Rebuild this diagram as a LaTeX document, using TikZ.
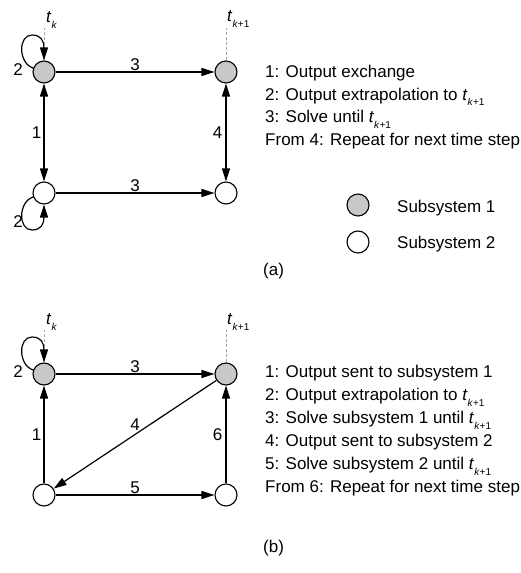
\documentclass[tikz,border=0pt]{standalone}
\usepackage{fontspec}
\setmainfont{Liberation Sans}
\usetikzlibrary{arrows.meta}

\definecolor{subgray}{RGB}{200,200,200}

\tikzset{
	sub1/.style={circle,draw,line width=1.1pt,fill=subgray,minimum size=22pt,inner sep=0pt},
	sub2/.style={circle,draw,line width=1.1pt,fill=white,minimum size=22pt,inner sep=0pt},
	flow/.style={line width=1.2pt,-{Triangle[length=13pt,width=8pt]}},
	twoway/.style={line width=1.2pt,{Triangle[length=13pt,width=8pt]}-{Triangle[length=13pt,width=8pt]}},
	tick/.style={gray!70,densely dashed,line width=0.8pt},
	note/.style={anchor=base west,inner sep=0pt},
}
% time instant with a small lowered index
\newcommand{\tstep}[1]{\textit{t}\raisebox{-0.6ex}{\fontsize{10}{10}\selectfont #1}}

\begin{document}
\begin{tikzpicture}[x=1pt,y=1pt,font=\fontsize{17}{20}\selectfont]
	%\draw[help lines] (0,0) grid[step=20] (520,573);
	\useasboundingbox (0,0) rectangle (520,573);

	% ---- (a) ----
	\node[sub1] (a1) at (44,501) {};
	\node[sub1] (a2) at (226,501) {};
	\node[sub2] (a3) at (44,380) {};
	\node[sub2] (a4) at (226,380) {};
	\coordinate (ak) at (44,545);
	\coordinate (ak1) at (226,545);
	\draw[tick] (a1.north) -- (ak);
	\draw[tick] (a2.north) -- (ak1);
	\node[note] (tka) at (46,550) {\tstep{\textit{k}}};
	\node[note] (tk1a) at (227,551) {\tstep{\textit{k}+1}};

	% self loops
	\draw[flow] (a1.160) .. controls (18,510) and (18,538) .. (32,538)
		.. controls (41,538) and (44,532) .. (a1.north);
	\draw[flow] (a3.200) .. controls (18,371) and (18,343) .. (32,343)
		.. controls (41,343) and (44,349) .. (a3.south);
	\node (la) at (18,503) {2};
	\node (lb) at (18,351) {2};

	\draw[flow] (a1) -- node[above,inner sep=1pt] {3} (a2);
	\draw[flow] (a3) -- node[above,inner sep=1pt] {3} (a4);
	\draw[twoway] (a1) -- node[left,inner sep=2pt] {1} (a3);
	\draw[twoway] (a2) -- node[left,inner sep=3pt] {4} (a4);

	\node[note] (na1) at (265,495) {1: Output exchange};
	\node[note] (na2) at (265,472.5) {2: Output extrapolation to \tstep{\textit{k}+1}};
	\node[note] (na3) at (265,450) {3: Solve until \tstep{\textit{k}+1}};
	\node[note] (na4) at (265,427.5) {From 4: Repeat for next time step};

	\node[sub1] (key1) at (358,368) {};
	\node[sub2] (key2) at (358,331) {};
	\node[note] (key1txt) at (397,360) {Subsystem 1};
	\node[note] (key2txt) at (397,324) {Subsystem 2};
	\node[note] (capa) at (263,297) {(a)};

	% ---- (b) ----
	\node[sub1] (b1) at (44,199) {};
	\node[sub1] (b2) at (226,199) {};
	\node[sub2] (b3) at (44,78) {};
	\node[sub2] (b4) at (226,78) {};
	\coordinate (bk) at (44,243);
	\coordinate (bk1) at (226,243);
	\draw[tick] (b1.north) -- (bk);
	\draw[tick] (b2.north) -- (bk1);
	\node[note] (tkb) at (46,248) {\tstep{\textit{k}}};
	\node[note] (tk1b) at (227,248) {\tstep{\textit{k}+1}};

	\draw[flow] (b1.160) .. controls (18,208) and (18,236) .. (32,236)
		.. controls (41,236) and (44,230) .. (b1.north);
	\node (lc) at (18,201) {2};

	\draw[flow] (b3) -- node[left,inner sep=2pt] {1} (b1);
	\draw[flow] (b1) -- node[above,inner sep=1pt] {3} (b2);
	\draw[flow] (b2) -- node[above,inner sep=3pt] {4} (b3);
	\draw[flow] (b3) -- node[above,inner sep=1pt] {5} (b4);
	\draw[flow] (b4) -- node[left,inner sep=3pt] {6} (b2);

	\node[note] (nb1) at (265,195) {1: Output sent to subsystem 1};
	\node[note] (nb2) at (265,172) {2: Output extrapolation to \tstep{\textit{k}+1}};
	\node[note] (nb3) at (265,149) {3: Solve subsystem 1 until \tstep{\textit{k}+1}};
	\node[note] (nb4) at (265,126) {4: Output sent to subsystem 2};
	\node[note] (nb5) at (265,103) {5: Solve subsystem 2 until \tstep{\textit{k}+1}};
	\node[note] (nb6) at (265,80) {From 6: Repeat for next time step};
	\node[note] (capb) at (263,20) {(b)};
\end{tikzpicture}
\end{document}
